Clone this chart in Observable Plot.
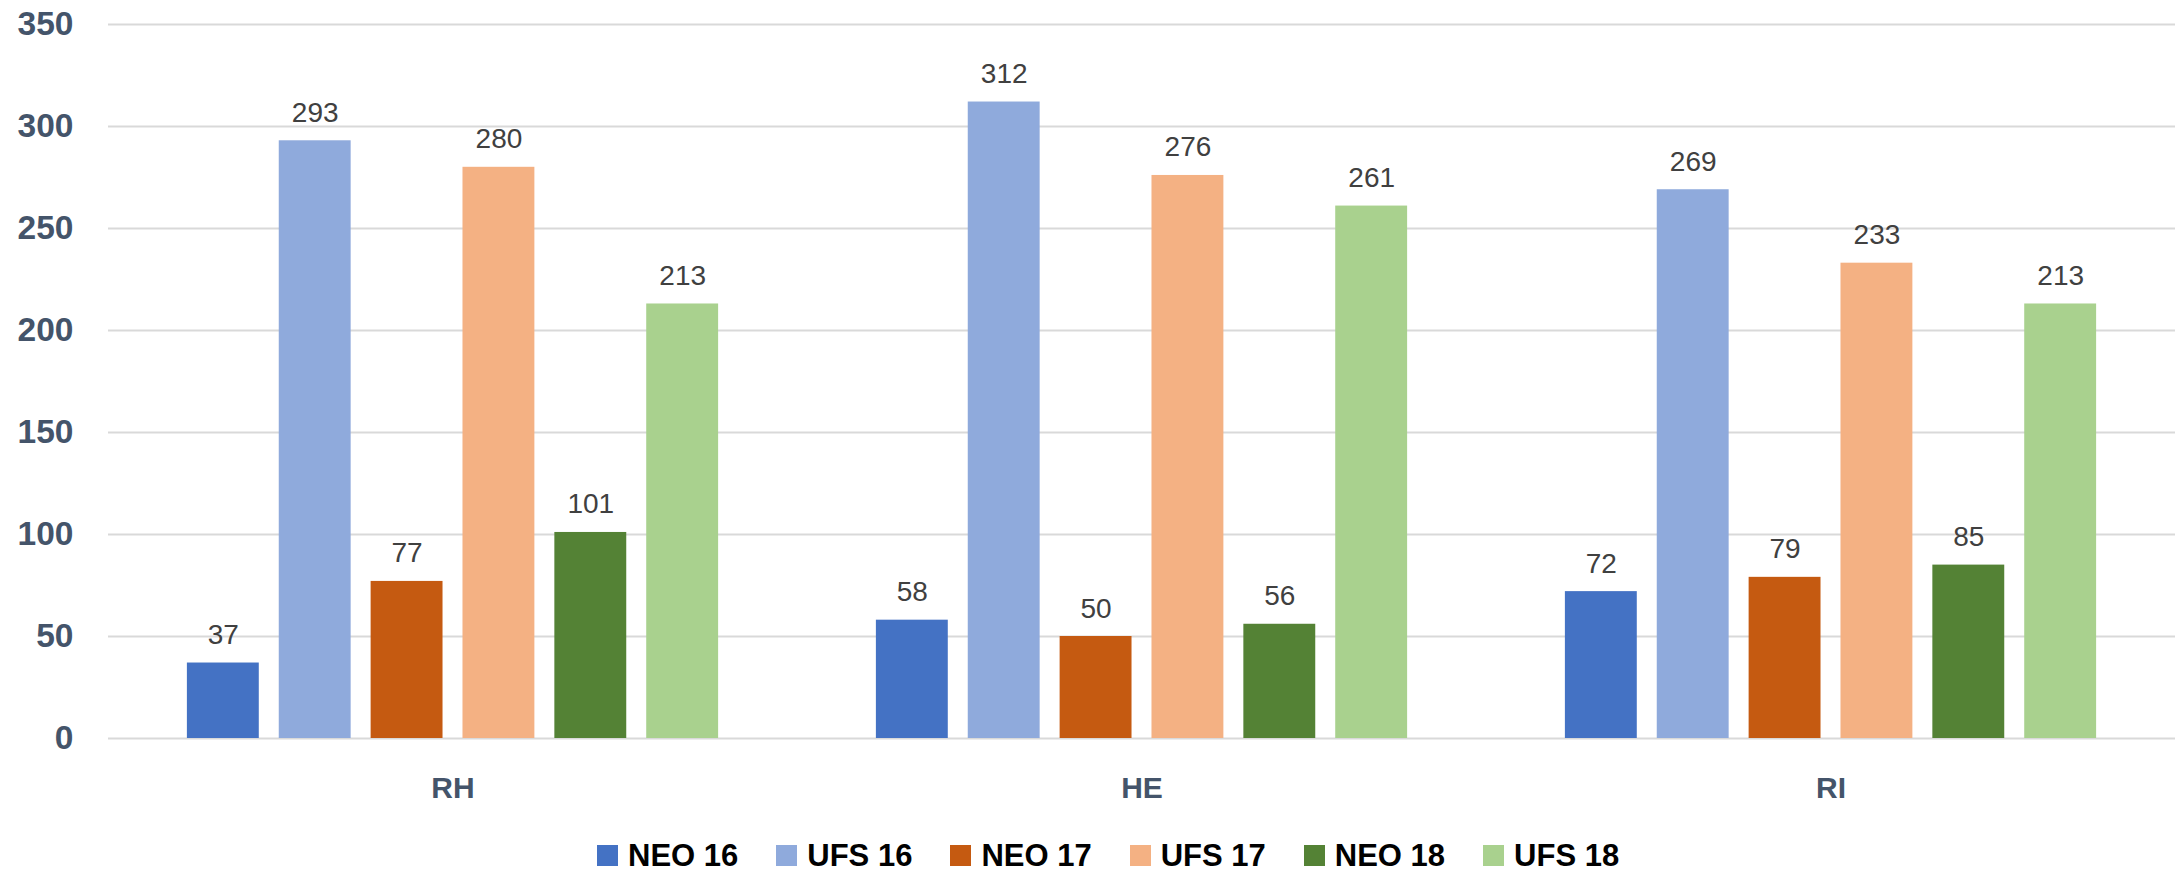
<!DOCTYPE html>
<html>
<head>
<meta charset="utf-8">
<script src="https://cdn.jsdelivr.net/npm/d3@7"></script>
<script src="https://cdn.jsdelivr.net/npm/@observablehq/plot@0.6"></script>
<style>
  html, body { margin: 0; padding: 0; background: #fff; overflow: hidden; }
  #wrap { position: relative; width: 2178px; height: 872px; font-family: "Liberation Sans", Arial, sans-serif; }
  #chart { position: absolute; left: 0; top: 0; }
  #legend { position: absolute; top: 840px; left: 597px; display: flex; align-items: center; height: 31px;
            font: 700 31px "Liberation Sans", Arial, sans-serif; line-height: 31px; color: #000; white-space: nowrap; }
  .item { display: flex; align-items: center; margin-right: 38px; }
  .sw { width: 21px; height: 21px; margin-right: 10px; }
</style>
</head>
<body>
<div id="wrap">
  <div id="chart"></div>
  <div id="legend"></div>
</div>
<script>
const categories = ["RH", "HE", "RI"];
const series = ["NEO 16", "UFS 16", "NEO 17", "UFS 17", "NEO 18", "UFS 18"];
const colors = ["#4472C4", "#8FAADC", "#C55A11", "#F4B183", "#548235", "#A9D18E"];
const valuesRH = [37, 293, 77, 280, 101, 213];
const valuesHE = [58, 312, 50, 276, 56, 261];
const valuesRI = [72, 269, 79, 233, 85, 213];
const yTicks = [0, 50, 100, 150, 200, 250, 300, 350];

const valuesByCategory = [valuesRH, valuesHE, valuesRI];
const data = [];
categories.forEach((c, i) => {
  series.forEach((s, j) => data.push({category: c, series: s, value: valuesByCategory[i][j]}));
});

const chart = Plot.plot({
  width: 2178,
  height: 820,
  marginLeft: 107,
  marginRight: 2,
  marginTop: 24,
  marginBottom: 82,
  style: {fontFamily: "Liberation Sans, Arial, sans-serif", background: "#fff"},
  fx: {domain: categories, padding: 0, label: null, axis: null},
  x: {domain: series, paddingInner: 0.2174, paddingOuter: 0.8587, round: false, axis: null},
  y: {domain: [0, 350], axis: null},
  color: {domain: series, range: colors},
  marks: [
    Plot.gridY(yTicks, {stroke: "#d9d9d9", strokeOpacity: 1, strokeWidth: 2}),
    Plot.axisY(yTicks, {tickSize: 0, tickPadding: 35, fontSize: 33.5, fontWeight: "bold", color: "#44546A", label: null}),
    Plot.axisFx({anchor: "bottom", tickSize: 0, tickPadding: 38, fontSize: 30, fontWeight: "bold", color: "#44546A", label: null}),
    Plot.barY(data, {fx: "category", x: "series", y: "value", fill: "series"}),
    Plot.text(data, {fx: "category", x: "series", y: "value", text: d => String(d.value), dy: -19, lineAnchor: "bottom", fontSize: 28, fill: "#404040"})
  ]
});
document.getElementById("chart").appendChild(chart);

const legend = document.getElementById("legend");
series.forEach((s, i) => {
  const item = document.createElement("div");
  item.className = "item";
  const sw = document.createElement("div");
  sw.className = "sw";
  sw.style.background = colors[i];
  const t = document.createElement("span");
  t.textContent = s;
  item.appendChild(sw);
  item.appendChild(t);
  legend.appendChild(item);
});
</script>
</body>
</html>
